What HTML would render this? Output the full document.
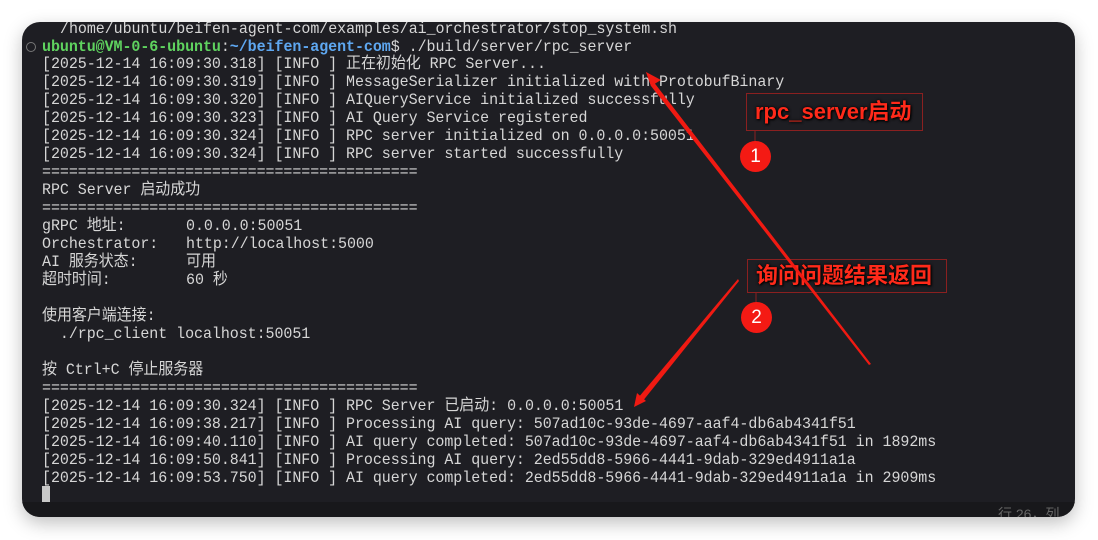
<!DOCTYPE html>
<html><head><meta charset="utf-8"><style>
html,body{margin:0;padding:0;background:#fff;width:1098px;height:540px;overflow:hidden;position:relative}
.win{position:absolute;left:22px;top:22px;width:1053px;height:495px;background:#1e1e23;border-radius:18px;box-shadow:0 6px 18px rgba(0,0,0,.25);overflow:hidden}
.bar{position:absolute;left:0;right:0;bottom:0;height:15px;background:#18181b}
.l{position:absolute;left:20px;white-space:pre;font-family:"Liberation Mono","Noto Sans CJK SC",monospace;font-size:15px;line-height:18px;color:#d6d6d6;transform:scaleY(1.05);letter-spacing:-0.06px;margin-top:2px}
.g{color:#5fd35f;font-weight:bold}.b{color:#5ea7f0;font-weight:bold}
.cur{position:absolute;left:20px;top:464px;width:8px;height:16px;background:#c8c8c8}
.status{position:absolute;left:976px;top:482px;font-family:"Liberation Sans","Noto Sans CJK SC",sans-serif;font-size:14px;color:#666}
.box{position:absolute;border:1px solid #8a2020;font-family:"Liberation Sans","Noto Sans CJK SC",sans-serif;font-size:22px;font-weight:bold;color:#ff2a1a;text-shadow:0 0 3px #000,1px 1px 2px #000;padding-left:8px;box-sizing:border-box}
.c{position:absolute;width:31px;height:31px;border-radius:50%;background:#f41a14;color:#fff;font-family:"Liberation Sans",sans-serif;font-size:19px;text-align:center;line-height:31px}
svg{position:absolute;left:0;top:0}
</style></head><body>
<div class="win">
<div class="l" style="top:-3px;left:38px">/home/ubuntu/beifen-agent-com/examples/ai_orchestrator/stop_system.sh</div>
<div style="position:absolute;left:4px;top:20px;width:8px;height:8px;border:1px solid #777;border-radius:50%"></div>
<div class="l" style="top:15px"><span class="g">ubuntu@VM-0-6-ubuntu</span>:<span class="b">~/beifen-agent-com</span>$ ./build/server/rpc_server</div>
<div class="l" style="top:32px">[2025-12-14 16:09:30.318] [INFO ] 正在初始化 RPC Server...</div>
<div class="l" style="top:50px">[2025-12-14 16:09:30.319] [INFO ] MessageSerializer initialized with ProtobufBinary</div>
<div class="l" style="top:68px">[2025-12-14 16:09:30.320] [INFO ] AIQueryService initialized successfully</div>
<div class="l" style="top:86px">[2025-12-14 16:09:30.323] [INFO ] AI Query Service registered</div>
<div class="l" style="top:104px">[2025-12-14 16:09:30.324] [INFO ] RPC server initialized on 0.0.0.0:50051</div>
<div class="l" style="top:122px">[2025-12-14 16:09:30.324] [INFO ] RPC server started successfully</div>
<div class="l" style="top:140px">==========================================</div>
<div class="l" style="top:158px">RPC Server 启动成功</div>
<div class="l" style="top:176px">==========================================</div>
<div class="l" style="top:194px">gRPC 地址:</div><div class="l" style="top:194px;left:164px">0.0.0.0:50051</div>
<div class="l" style="top:212px">Orchestrator:</div><div class="l" style="top:212px;left:164px">http://localhost:5000</div>
<div class="l" style="top:230px">AI 服务状态:</div><div class="l" style="top:230px;left:164px">可用</div>
<div class="l" style="top:248px">超时时间:</div><div class="l" style="top:248px;left:164px">60 秒</div>
<div class="l" style="top:284px">使用客户端连接:</div>
<div class="l" style="top:302px">  ./rpc_client localhost:50051</div>
<div class="l" style="top:338px">按 Ctrl+C 停止服务器</div>
<div class="l" style="top:356px">==========================================</div>
<div class="l" style="top:374px">[2025-12-14 16:09:30.324] [INFO ] RPC Server 已启动: 0.0.0.0:50051</div>
<div class="l" style="top:392px">[2025-12-14 16:09:38.217] [INFO ] Processing AI query: 507ad10c-93de-4697-aaf4-db6ab4341f51</div>
<div class="l" style="top:410px">[2025-12-14 16:09:40.110] [INFO ] AI query completed: 507ad10c-93de-4697-aaf4-db6ab4341f51 in 1892ms</div>
<div class="l" style="top:428px">[2025-12-14 16:09:50.841] [INFO ] Processing AI query: 2ed55dd8-5966-4441-9dab-329ed4911a1a</div>
<div class="l" style="top:446px">[2025-12-14 16:09:53.750] [INFO ] AI query completed: 2ed55dd8-5966-4441-9dab-329ed4911a1a in 2909ms</div>
<div class="cur"></div>
<div class="bar"></div>
<div class="status">行 26，列</div>
</div>
<div class="box" style="left:746px;top:93px;width:177px;height:38px;line-height:36px">rpc_server启动</div>
<div class="box" style="left:747px;top:259px;width:200px;height:34px;line-height:32px">询问问题结果返回</div>
<svg width="1098" height="540">
<line x1="755" y1="131" x2="755" y2="142" stroke="#8a2020" stroke-width="1"/>
<line x1="756" y1="293" x2="756" y2="304" stroke="#8a2020" stroke-width="1"/>
<polygon points="646,72 871,364 869,365 651,86" fill="#f01a12"/>
<polygon points="646,72 661,80 651,86" fill="#f01a12"/>
<polygon points="738,279 739,281 642,402 638,398" fill="#f01a12"/>
<polygon points="634,407 637,393 646,401" fill="#f01a12"/>
</svg>
<div class="c" style="left:740px;top:141px">1</div>
<div class="c" style="left:741px;top:302px">2</div>
</body></html>
